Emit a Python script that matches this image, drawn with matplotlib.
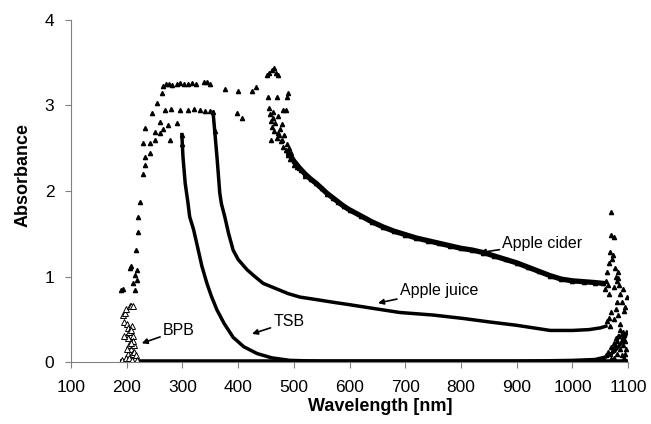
import matplotlib
matplotlib.use("Agg")
import matplotlib.pyplot as plt

plt.rcParams['font.family'] = ['Liberation Sans', 'DejaVu Sans']

# ---- Apple cider (filled triangles) ----
# smooth part of the spectrum, drawn as a thick band
cider_band_wl = [490, 500, 510, 520, 530, 540, 550, 560, 570, 580, 590, 600, 620, 640, 660,
                 680, 700, 720, 740, 760, 780, 800, 820, 840, 860, 880, 900, 920, 940, 960,
                 980, 1000, 1020, 1040, 1055]
cider_band_abs = [2.45, 2.35, 2.27, 2.20, 2.14, 2.09, 2.03, 1.97, 1.92, 1.87, 1.82, 1.78, 1.71,
                  1.64, 1.58, 1.53, 1.49, 1.45, 1.42, 1.39, 1.36, 1.33, 1.31, 1.28, 1.24, 1.20,
                  1.16, 1.11, 1.06, 1.01, 0.97, 0.95, 0.94, 0.93, 0.92]
# noisy / saturated points
cider_pts_wl = [190, 193, 206, 208, 211, 215, 215, 217, 218, 218, 221, 221, 224, 229, 233, 245,
                254, 263, 266,
                270, 276, 282, 290, 295, 302, 310, 318, 325, 338, 345, 350, 376, 400, 425, 432,
                452, 456, 460, 464, 468, 471, 454, 470, 490, 488, 398, 407,
                455, 457, 459, 461, 463, 465, 467, 469, 471, 473, 475, 477, 479, 481, 483, 485,
                487, 489, 491, 493, 495, 463, 478, 480, 472, 485, 459, 500, 505, 512, 520,
                1058, 1060, 1062, 1064, 1066, 1068, 1069, 1070, 1072, 1074, 1076, 1078, 1080,
                1082, 1084, 1086, 1088, 1090, 1092, 1094, 1097, 1065, 1075, 1071, 1082]
cider_pts_abs = [0.84, 0.85, 1.10, 1.12, 0.92, 0.84, 1.02, 1.31, 0.96, 1.08, 1.52, 1.70, 1.87,
                 2.56, 2.74, 2.91, 3.03, 3.15, 3.23,
                 3.25, 3.25, 3.24, 3.25, 3.26, 3.25, 3.25, 3.26, 3.25, 3.27, 3.28, 3.25, 3.19,
                 3.17, 3.17, 3.22,
                 3.36, 3.38, 3.42, 3.44, 3.38, 3.36, 3.10, 3.10, 3.15, 3.10, 2.91, 2.85,
                 2.97, 2.90, 2.82, 2.75, 2.92, 2.70, 2.80, 2.62, 2.88, 2.66, 2.72, 2.58, 2.60,
                 2.52, 2.65, 2.48, 2.55, 2.42, 2.50, 2.38, 2.45, 2.85, 2.78, 2.95, 2.68, 2.95,
                 2.60, 2.30, 2.28, 2.24, 2.18,
                 0.85, 0.95, 1.05, 0.90, 1.16, 1.29, 1.75, 1.49, 1.25, 1.46, 1.10, 1.00, 0.95,
                 1.05, 0.90, 0.80, 0.70, 0.85, 0.60, 0.64, 0.76, 0.80, 0.88, 1.20, 0.98]

# ---- Apple juice (small dots) ----
juice_band_wl = [355, 358, 362, 365, 367, 370, 376, 383, 391, 400, 416, 430, 445, 460, 475, 490,
                 511, 541, 570, 601, 650, 690, 750, 804, 850, 900, 930, 960, 1000, 1030, 1050,
                 1060]
juice_band_abs = [2.92, 2.70, 2.40, 2.15, 1.98, 1.85, 1.70, 1.50, 1.31, 1.20, 1.08, 1.00, 0.92,
                  0.88, 0.84, 0.80, 0.76, 0.73, 0.70, 0.67, 0.62, 0.58, 0.55, 0.51, 0.47, 0.43,
                  0.40, 0.37, 0.37, 0.38, 0.40, 0.42]
juice_pts_wl = [233, 242, 250, 260, 269, 280, 296, 310, 320, 332, 340, 350, 355, 358,
                1062, 1066, 1070, 1074, 1078, 1082, 1086, 1090, 1068, 1080]
juice_pts_abs = [2.40, 2.56, 2.69, 2.81, 2.95, 2.96, 2.95, 2.95, 2.96, 2.95, 2.94, 2.93, 2.92,
                 2.70, 0.48, 0.52, 0.58, 0.50, 0.62, 0.55, 0.45, 0.35, 0.42, 0.70]

# ---- TSB (small dots) ----
tsb_band_wl = [299, 301, 305, 310, 313, 320, 326, 335, 344, 352, 362, 375, 391, 410, 434, 460,
               493, 550, 700, 900, 1000, 1040, 1060, 1075, 1085, 1095, 1098]
tsb_band_abs = [2.66, 2.40, 2.09, 1.86, 1.70, 1.55, 1.38, 1.12, 0.92, 0.77, 0.61, 0.45, 0.29,
                0.18, 0.10, 0.05, 0.02, 0.01, 0.01, 0.01, 0.02, 0.03, 0.06, 0.12, 0.20, 0.30,
                0.35]
tsb_pts_wl = [229, 233, 242, 250, 260, 265, 274, 278, 290, 299, 300,
              1055, 1060, 1064, 1068, 1070, 1072, 1074, 1076, 1078, 1080, 1082, 1084, 1086,
              1088, 1090, 1092, 1094, 1096, 1085, 1080, 1090, 1093, 1075, 1088, 1070, 1095]
tsb_pts_abs = [2.20, 2.30, 2.45, 2.60, 2.68, 2.72, 2.77, 2.60, 2.80, 2.66, 2.55,
               0.05, 0.08, 0.12, 0.10, 0.18, 0.15, 0.22, 0.20, 0.28, 0.25, 0.30, 0.30, 0.37,
               0.33, 0.28, 0.32, 0.25, 0.15, 0.15, 0.10, 0.20, 0.05, 0.05, 0.08, 0.04, 0.10]

# ---- BPB (open triangles) ----
bpb_wl = [191, 193, 195, 197, 199, 200, 201, 203, 204, 205, 206, 207, 208, 209, 210, 211, 212,
          213, 214, 215, 216, 218, 202, 198, 205, 210, 203, 207, 195, 200, 212, 208]
bpb_abs = [0.02, 0.55, 0.47, 0.57, 0.62, 0.30, 0.45, 0.40, 0.20, 0.35, 0.65, 0.15, 0.66, 0.10,
           0.42, 0.30, 0.65, 0.20, 0.12, 0.05, 0.08, 0.03, 0.10, 0.05, 0.05, 0.02, 0.28, 0.38,
           0.30, 0.15, 0.25, 0.22]
base_wl = [188, 1100]
base_abs = [0.0, 0.0]

fig = plt.figure(figsize=(6.51, 4.24), dpi=100)
ax = fig.add_axes([0.109, 0.146, 0.856, 0.807])

# baseline of the blank spectra
ax.plot(base_wl, base_abs, color='black', lw=4, solid_capstyle='butt')

ax.plot(cider_band_wl, cider_band_abs, color='black', lw=3.8, marker='^', ms=3)
ax.plot(cider_pts_wl, cider_pts_abs, ls='none', color='black', marker='^', ms=3)

ax.plot(juice_band_wl, juice_band_abs, color='black', lw=2.5)
ax.plot(juice_pts_wl, juice_pts_abs, ls='none', color='black', marker='^', ms=3)

ax.plot(tsb_band_wl, tsb_band_abs, color='black', lw=2.5)
ax.plot(tsb_pts_wl, tsb_pts_abs, ls='none', color='black', marker='^', ms=3)

ax.plot(bpb_wl, bpb_abs, ls='none', marker='^', ms=4, mfc='white', mec='black', mew=0.7)

arrow = dict(arrowstyle='-|>', color='black', lw=1.2, mutation_scale=8, shrinkA=0, shrinkB=0)
ax.annotate('Apple cider', xy=(834, 1.28), xytext=(874, 1.39), fontsize=11.5,
            va='center', arrowprops=arrow)
ax.annotate('Apple juice', xy=(651, 0.69), xytext=(690, 0.84), fontsize=11.5,
            va='center', arrowprops=arrow)
ax.annotate('TSB', xy=(425, 0.33), xytext=(463, 0.47), fontsize=11.5,
            va='center', arrowprops=arrow)
ax.annotate('BPB', xy=(227, 0.22), xytext=(265, 0.37), fontsize=11.5,
            va='center', arrowprops=arrow)

ax.set_xlim(100, 1100)
ax.set_ylim(0, 4)
ax.set_xticks(range(100, 1101, 100))
ax.set_yticks(range(0, 5))
for s in ['top', 'right']:
    ax.spines[s].set_visible(False)
for s in ['left', 'bottom']:
    ax.spines[s].set_color('#808080')
ax.tick_params(direction='out', length=4, color='#808080', labelsize=12.5)
ax.tick_params(axis='x', pad=9)
ax.tick_params(axis='y', pad=8)
ax.set_xlabel('Wavelength [nm]', fontsize=13, fontweight='bold')
ax.set_ylabel('Absorbance', fontsize=13, fontweight='bold')
ax.xaxis.set_label_coords(0.555, -0.105)
ax.yaxis.set_label_coords(-0.07, 0.547)

fig.savefig('out.png', dpi=100)
